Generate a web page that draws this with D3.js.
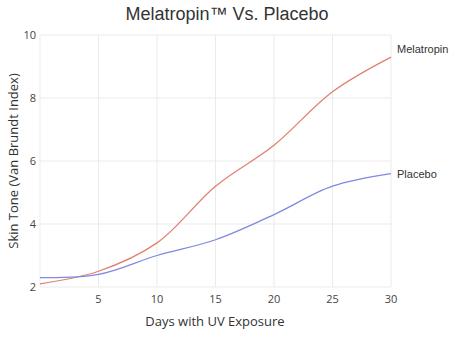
<!DOCTYPE html>
<html>
<head>
<meta charset="utf-8">
<script src="https://cdn.jsdelivr.net/npm/d3@7"></script>
<style>
  body { margin: 0; background: #fff; }
  svg { display: block; }
</style>
</head>
<body>
<svg id="chart" width="452" height="346"></svg>
<script>
// days on the x axis
var days = [0, 5, 10, 15, 20, 25, 30];
// skin tone readings
var melatropin = [2.1, 2.5, 3.4, 5.2, 6.5, 8.2, 9.3];
var placebo = [2.3, 2.4, 3.0, 3.5, 4.3, 5.2, 5.6];
var xTicks = [5, 10, 15, 20, 25, 30];
var yTicks = [2, 4, 6, 8, 10];

var svg = d3.select("#chart");

var x = d3.scaleLinear().domain([0, 30]).range([40, 391]);
var y = d3.scaleLinear().domain([2, 10]).range([287, 35]);

// grid
svg.append("g").selectAll("line")
    .data([0].concat(xTicks))
    .enter().append("line")
    .attr("x1", function (d) { return x(d); })
    .attr("x2", function (d) { return x(d); })
    .attr("y1", y(2)).attr("y2", y(10))
    .attr("stroke", "#ebebeb").attr("stroke-width", 1);

svg.append("g").selectAll("line")
    .data(yTicks)
    .enter().append("line")
    .attr("x1", x(0)).attr("x2", x(30))
    .attr("y1", function (d) { return y(d); })
    .attr("y2", function (d) { return y(d); })
    .attr("stroke", "#ebebeb").attr("stroke-width", 1);

// tick labels
var tickFont = "'Open Sans', sans-serif";
svg.append("g").selectAll("text")
    .data(xTicks)
    .enter().append("text")
    .attr("x", function (d) { return x(d); })
    .attr("y", 303)
    .attr("text-anchor", "middle")
    .attr("font-family", tickFont).attr("font-size", 11)
    .attr("fill", "#444")
    .text(function (d) { return d; });

svg.append("g").selectAll("text")
    .data(yTicks)
    .enter().append("text")
    .attr("x", 36)
    .attr("y", function (d) { return y(d) + 4; })
    .attr("text-anchor", "end")
    .attr("font-family", tickFont).attr("font-size", 11)
    .attr("fill", "#444")
    .text(function (d) { return d; });

// lines
var line = function (vals) {
    return d3.line()
        .x(function (d, i) { return x(days[i]); })
        .y(function (d) { return y(d); })
        .curve(d3.curveCatmullRom.alpha(0.5))(vals);
};

svg.append("path").attr("d", line(melatropin))
    .attr("fill", "none").attr("stroke", "#e0826e").attr("stroke-width", 1.3);
svg.append("path").attr("d", line(placebo))
    .attr("fill", "none").attr("stroke", "#7f89e0").attr("stroke-width", 1.3);

// end labels
var labelFont = "'Liberation Sans', Arial, sans-serif";
svg.append("text").attr("x", 397).attr("y", y(9.3) - 4)
    .attr("font-family", labelFont).attr("font-size", 11).attr("fill", "#333")
    .text("Melatropin");
svg.append("text").attr("x", 397).attr("y", y(5.6) + 4)
    .attr("font-family", labelFont).attr("font-size", 11).attr("fill", "#333")
    .text("Placebo");

// title and axis titles
svg.append("text").attr("x", 227).attr("y", 20)
    .attr("text-anchor", "middle")
    .attr("font-family", labelFont).attr("font-size", 18).attr("fill", "#333")
    .text("Melatropin™ Vs. Placebo");

svg.append("text").attr("x", 215).attr("y", 326)
    .attr("text-anchor", "middle")
    .attr("font-family", tickFont).attr("font-size", 13).attr("fill", "#333")
    .text("Days with UV Exposure");

svg.append("text")
    .attr("transform", "translate(18,161) rotate(-90)")
    .attr("text-anchor", "middle")
    .attr("font-family", tickFont).attr("font-size", 13).attr("fill", "#333")
    .text("Skin Tone (Van Brundt Index)");
</script>
</body>
</html>
